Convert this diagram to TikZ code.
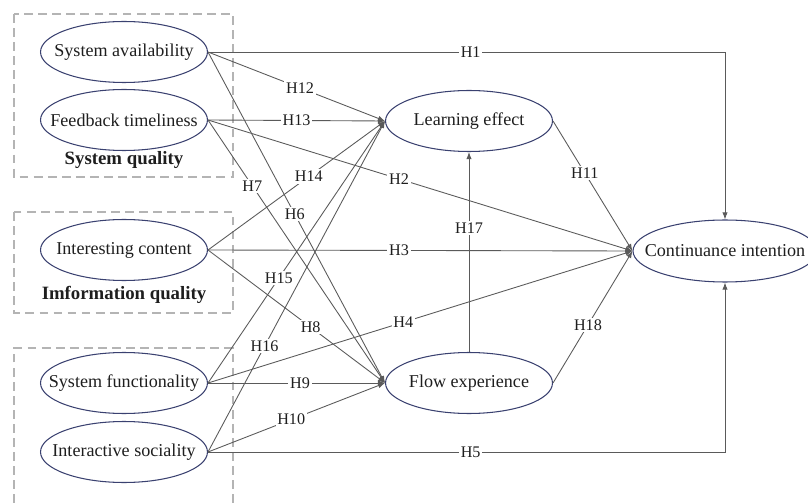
\documentclass[tikz,border=0pt]{standalone}
\usepackage{fontspec}
\setmainfont{Liberation Serif}
\usepackage{xcolor}
\usepackage{tikz}
\usetikzlibrary{arrows.meta,shapes.geometric}

\definecolor{ellline}{HTML}{3A4170}
\definecolor{pathgray}{HTML}{5A5A5A}
\definecolor{boxgray}{HTML}{B4B4B4}
\definecolor{txtdark}{HTML}{1E1E1E}

\begin{document}
\begin{tikzpicture}[
  x=0.02cm, y=-0.02cm,
  var/.style={ellipse, draw=ellline, line width=0.6pt, inner sep=0pt,
              minimum width=3.34cm, minimum height=1.22cm,
              font=\fontsize{10.3}{12}\selectfont, text=txtdark,
              execute at begin node={\hbox to 0pt\bgroup\hss},
              execute at end node={\hss\egroup}},
  grp/.style={draw=boxgray, line width=0.7pt, dash pattern=on 5pt off 3pt},
  grplbl/.style={font=\fontsize{10.7}{12}\selectfont\bfseries, text=txtdark},
  hyp/.style={fill=white, inner sep=1pt, font=\fontsize{9.2}{11}\selectfont,
              text=txtdark},
  arr/.style={-{Latex[length=4pt,width=3pt]}, draw=pathgray, line width=0.5pt}
]
\useasboundingbox (0,0) rectangle (808,503);
%% ── Construct groups (dashed frames) ────────────────────────────────────
\draw[grp] (14,14) rectangle (233,177);
\draw[grp] (14,212) rectangle (233,313);
\draw[grp] (14,503) |- (233,348) -- (233,503);
%% ── Exogenous variables (left column) ───────────────────────────────────
\node[var] (sa) at (124,52)  {System availability};
\node[var] (ft) at (124,120) {Feedback timeliness};
\node[grplbl] (sq) at (124,160) {System quality};
\node[var] (ic) at (124,250) {Interesting content};
\node[grplbl] (iq) at (124,295) {Imformation quality};
\node[var] (sf) at (124,383) {System functionality};
\node[var] (is) at (124,452) {Interactive sociality};
%% ── Mediators and outcome ───────────────────────────────────────────────
\node[var] (le) at (469,121) {Learning effect};
\node[var] (fe) at (469,383) {Flow experience};
\node[var, minimum width=3.68cm, minimum height=1.24cm] (ci) at (725,251)
      {Continuance intention};
%% ── Direct paths to continuance intention ───────────────────────────────
\draw[arr] (sa.east) -| node[hyp, pos=0.254]{H1} (ci.north);
\draw[arr] (ft.east) -- node[hyp, pos=0.45]{H2} (ci.west);
\draw[arr] (ic.east) -- node[hyp, pos=0.45]{H3} (ci.west);
\draw[arr] (sf.east) -- node[hyp, pos=0.46]{H4} (ci.west);
\draw[arr] (is.east) -| node[hyp, pos=0.254]{H5} (ci.south);
%% ── Paths to flow experience ────────────────────────────────────────────
\draw[arr] (sa.east) -- node[hyp, pos=0.49]{H6} (fe.west);
\draw[arr] (ft.east) -- node[hyp, pos=0.25]{H7} (fe.west);
\draw[arr] (ic.east) -- node[hyp, pos=0.58]{H8} (fe.west);
\draw[arr] (sf.east) -- node[hyp, pos=0.52]{H9} (fe.west);
\draw[arr] (is.east) -- node[hyp, pos=0.47]{H10} (fe.west);
%% ── Paths to learning effect ────────────────────────────────────────────
\draw[arr] (sa.east) -- node[hyp, pos=0.52]{H12} (le.west);
\draw[arr] (ft.east) -- node[hyp, pos=0.5]{H13} (le.west);
\draw[arr] (ic.east) -- node[hyp, pos=0.57]{H14} (le.west);
\draw[arr] (sf.east) -- node[hyp, pos=0.4]{H15} (le.west);
\draw[arr] (is.east) -- node[hyp, pos=0.32]{H16} (le.west);
%% ── Mediator paths ──────────────────────────────────────────────────────
\draw[arr] (le.east)  -- node[hyp, pos=0.4]{H11} (ci.west);
\draw[arr] (fe.north) -- node[hyp, pos=0.62]{H17} (le.south);
\draw[arr] (fe.east)  -- node[hyp, pos=0.44]{H18} (ci.west);
\end{tikzpicture}
\end{document}
